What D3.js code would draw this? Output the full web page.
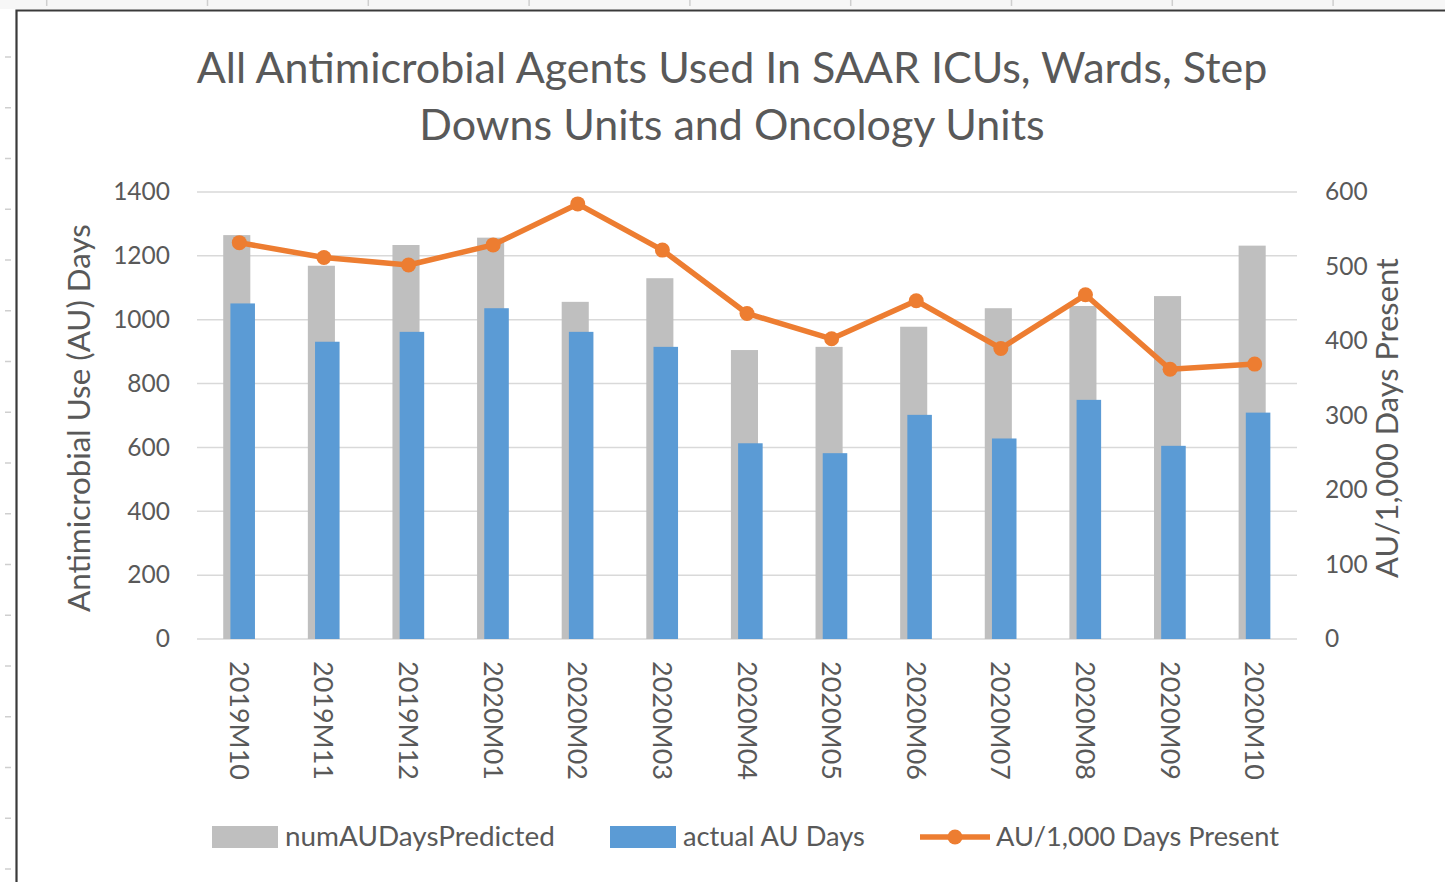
<!DOCTYPE html>
<html><head><meta charset="utf-8">
<script src="https://cdn.jsdelivr.net/npm/d3@7"></script>
<style>
html,body{margin:0;padding:0;background:#fff;}
svg{display:block;}
text{font-family:Lato,"Open Sans",sans-serif;fill:#595959;}
</style></head>
<body><svg id="c" width="1445" height="882"></svg>
<script>
const categories = ["2019M10","2019M11","2019M12","2020M01","2020M02","2020M03","2020M04","2020M05","2020M06","2020M07","2020M08","2020M09","2020M10"];
const predicted = [1265,1169,1234,1257,1056,1130,905,915,978,1036,1043,1074,1232];
const actual = [1051,931,962,1036,962,915,613,582,702,628,749,605,709];
const rate = [532,512,502,529,584,522,437,403,454,390,462,362,369];
const leftTicks = [0,200,400,600,800,1000,1200,1400];
const rightTicks = [0,100,200,300,400,500,600];
const titleLines = ["All Antimicrobial Agents Used In SAAR ICUs, Wards, Step","Downs Units and Oncology Units"];
const seriesNames = ["numAUDaysPredicted","actual AU Days","AU/1,000 Days Present"];
const leftTitle = "Antimicrobial Use (AU)  Days";
const rightTitle = "AU/1,000  Days Present";

const colors = {pred:"#BFBFBF", act:"#5B9BD5", rate:"#ED7D31", grid:"#D9D9D9"};
const svg = d3.select("#c");

// page frame / ruler artefacts
const ruler = svg.append("g");
ruler.append("rect").attr("x",0).attr("y",0).attr("width",1445).attr("height",9).attr("fill","#f7f7f7");
d3.range(0,9).forEach(i=>{
  ruler.append("line").attr("x1",46.7+i*160.8).attr("x2",46.7+i*160.8).attr("y1",0).attr("y2",6).attr("stroke","#cfcfcf").attr("stroke-width",1.5);
});
d3.range(0,17).forEach(i=>{
  ruler.append("line").attr("x1",5).attr("x2",11).attr("y1",57+i*50.75).attr("y2",57+i*50.75).attr("stroke","#cfcfcf").attr("stroke-width",1.5);
});
ruler.append("path").attr("d","M16.5,882V10.5H1445").attr("fill","none").attr("stroke","#3a3a3a").attr("stroke-width",2.2);

const x0=197, x1=1297, yTop=192, yBot=639;
const x = d3.scaleBand().domain(categories).range([x0,x1]).padding(0);
const yL = d3.scaleLinear().domain([0,1400]).range([yBot,yTop]);
const yR = d3.scaleLinear().domain([0,600]).range([yBot,yTop]);
const bw = x.bandwidth();
const cx = d => x(d)+bw/2;

// gridlines
svg.append("g").selectAll("line").data(leftTicks).join("line")
  .attr("x1",x0).attr("x2",x1).attr("y1",d=>yL(d)).attr("y2",d=>yL(d))
  .attr("stroke",colors.grid).attr("stroke-width",1.5);

// left axis labels
const axL = svg.append("g").attr("transform",`translate(${x0},0)`)
  .call(d3.axisLeft(yL).tickValues(leftTicks).tickFormat(d3.format("d")).tickSize(0).tickPadding(27));
axL.select(".domain").remove();
axL.selectAll("text").attr("font-size",24.5).attr("fill","#595959").style("font-family","Lato");

const axR = svg.append("g").attr("transform",`translate(${x1},0)`)
  .call(d3.axisRight(yR).tickValues(rightTicks).tickFormat(d3.format("d")).tickSize(0).tickPadding(28));
axR.select(".domain").remove();
axR.selectAll("text").attr("font-size",24.5).attr("fill","#595959").style("font-family","Lato");

// bars
svg.append("g").selectAll("rect").data(categories).join("rect")
  .attr("x",(d)=>cx(d)-0.19*bw).attr("width",0.32*bw)
  .attr("y",(d,i)=>yL(predicted[i])).attr("height",(d,i)=>yL(0)-yL(predicted[i]))
  .attr("fill",colors.pred);
svg.append("g").selectAll("rect").data(categories).join("rect")
  .attr("x",(d)=>cx(d)-0.105*bw).attr("width",0.29*bw)
  .attr("y",(d,i)=>yL(actual[i])).attr("height",(d,i)=>yL(0)-yL(actual[i]))
  .attr("fill",colors.act);

// line
const line = d3.line().x((d,i)=>cx(categories[i])).y(d=>yR(d));
svg.append("path").datum(rate).attr("d",line).attr("fill","none")
  .attr("stroke",colors.rate).attr("stroke-width",5.5).attr("stroke-linejoin","round");
svg.append("g").selectAll("circle").data(rate).join("circle")
  .attr("cx",(d,i)=>cx(categories[i])).attr("cy",d=>yR(d)).attr("r",7.5).attr("fill",colors.rate);

// title
function fit(sel, target){
  const n = sel.node(); const w = n.getComputedTextLength();
  const fs = parseFloat(sel.attr("font-size"));
  sel.attr("font-size", fs*target/w);
}

// x labels rotated
svg.append("g").selectAll("text").data(categories).join("text")
  .attr("transform",d=>`translate(${cx(d)+1},661) rotate(90)`)
  .attr("dominant-baseline","central").attr("font-size",24).text(d=>d)
  .each(function(){ fit(d3.select(this),119); });

const t1 = svg.append("text").attr("x",732).attr("y",83).attr("text-anchor","middle").attr("font-size",40).text(titleLines[0]);
fit(t1,1071);
const t2 = svg.append("text").attr("x",732).attr("y",140).attr("text-anchor","middle").attr("font-size",t1.attr("font-size")).text(titleLines[1]);

// axis titles
const lt = svg.append("text").attr("transform","translate(90,418) rotate(-90)").attr("text-anchor","middle").attr("font-size",26).text(leftTitle);
fit(lt,388);
const rt = svg.append("text").attr("transform","translate(1398,418) rotate(-90)").attr("text-anchor","middle").attr("font-size",26).text(rightTitle);
fit(rt,320);

// legend
const lg = svg.append("g");
lg.append("rect").attr("x",212).attr("y",826).attr("width",66).attr("height",22).attr("fill",colors.pred);
const l1 = lg.append("text").attr("x",285).attr("y",846).attr("font-size",24).text(seriesNames[0]); fit(l1,270);
lg.append("rect").attr("x",610).attr("y",826).attr("width",66).attr("height",22).attr("fill",colors.act);
const l2 = lg.append("text").attr("x",683).attr("y",846).attr("font-size",24).text(seriesNames[1]); fit(l2,182);
lg.append("line").attr("x1",920).attr("x2",990).attr("y1",837).attr("y2",837).attr("stroke",colors.rate).attr("stroke-width",5.5);
lg.append("circle").attr("cx",955).attr("cy",837).attr("r",7.5).attr("fill",colors.rate);
const l3 = lg.append("text").attr("x",996).attr("y",846).attr("font-size",24).text(seriesNames[2]); fit(l3,283);
</script></body></html>
